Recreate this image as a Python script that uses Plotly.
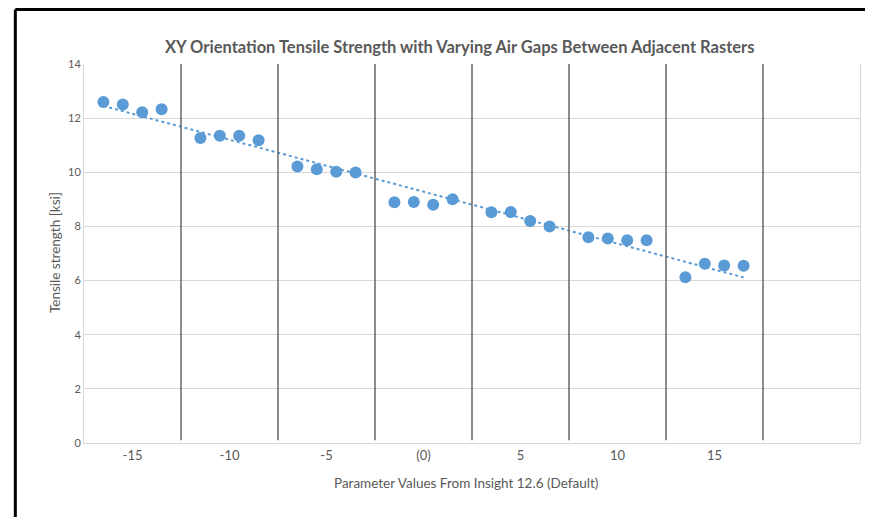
import numpy as np
import plotly.graph_objects as go

# Data
x_positions = [-16.5, -15.5, -14.5, -13.5,
               -11.5, -10.5, -9.5, -8.5,
               -6.5, -5.5, -4.5, -3.5,
               -1.5, -0.5, 0.5, 1.5,
               3.5, 4.5, 5.5, 6.5,
               8.5, 9.5, 10.5, 11.5,
               13.5, 14.5, 15.5, 16.5]
tensile_ksi = [12.6, 12.5, 12.22, 12.33,
               11.27, 11.35, 11.35, 11.18,
               10.21, 10.11, 10.02, 9.99,
               8.89, 8.9, 8.8, 9.0,
               8.52, 8.53, 8.2, 8.0,
               7.6, 7.55, 7.49, 7.49,
               6.12, 6.62, 6.56, 6.55]
tick_vals = [-15, -10, -5, 0, 5, 10, 15]
tick_text = ["-15", "-10", "-5", "(0)", "5", "10", "15"]
separators = [-12.5, -7.5, -2.5, 2.5, 7.5, 12.5, 17.5]

# Linear trendline (least squares, like Excel)
slope, intercept = np.polyfit(x_positions, tensile_ksi, 1)
trend_x = [min(x_positions), max(x_positions)]
trend_y = [slope * v + intercept for v in trend_x]

fig = go.Figure()
fig.add_trace(go.Scatter(x=trend_x, y=trend_y, mode="lines",
                         line=dict(color="#5B9BD5", width=2, dash="dot"),
                         hoverinfo="skip", showlegend=False))
fig.add_trace(go.Scatter(x=x_positions, y=tensile_ksi, mode="markers",
                         marker=dict(color="#5B9BD5", size=12),
                         showlegend=False))

shapes = []
for s in separators:
    shapes.append(dict(type="line", xref="x", yref="y", x0=s, x1=s, y0=0.1, y1=14,
                       line=dict(color="#666666", width=1.5), layer="above"))
# outer frame (left and top black border)
top_y = (443 - 9.5) / 379
shapes.append(dict(type="line", xref="paper", yref="paper", x0=-0.0885, x1=-0.0885,
                   y0=-0.3, y1=top_y, line=dict(color="black", width=3)))
shapes.append(dict(type="line", xref="paper", yref="paper", x0=-0.0885, x1=1.05,
                   y0=top_y, y1=top_y, line=dict(color="black", width=3)))

font_family = "Lato, 'Open Sans', sans-serif"
fig.update_layout(
    width=873, height=517,
    margin=dict(l=76, r=21, t=56, b=82),
    paper_bgcolor="white", plot_bgcolor="white",
    font=dict(family=font_family, color="#595959", size=12),
    shapes=shapes,
    xaxis=dict(range=[-17.5, 22.5], tickmode="array", tickvals=tick_vals,
               ticktext=tick_text, showgrid=False, zeroline=False,
               showline=True, linecolor="#D9D9D9", linewidth=1,
               ticks="", tickfont=dict(size=13, color="#595959")),
    yaxis=dict(range=[0, 14], dtick=2, showgrid=True, gridcolor="#D9D9D9",
               gridwidth=1, zeroline=False, showline=True, mirror=True,
               linecolor="#D9D9D9", linewidth=1, ticks="",
               tickfont=dict(size=11, color="#595959")),
    annotations=[
        dict(text="<b>XY Orientation Tensile Strength with Varying Air Gaps Between Adjacent Rasters</b>",
             xref="paper", yref="paper", x=(459 - 84) / 776, y=(443 - 35) / 379,
             showarrow=False, font=dict(size=16.5, color="#595959")),
        dict(text="Parameter Values From Insight 12.6 (Default)",
             xref="paper", yref="paper", x=(466 - 84) / 776, y=(443 - 493) / 379,
             showarrow=False, font=dict(size=13.5, color="#595959")),
        dict(text="Tensile strength [ksi]", textangle=-90,
             xref="paper", yref="paper", x=(45 - 84) / 776, y=(443 - 253) / 379,
             showarrow=False, font=dict(size=13.5, color="#595959")),
    ],
)

fig.write_html("out.html")
